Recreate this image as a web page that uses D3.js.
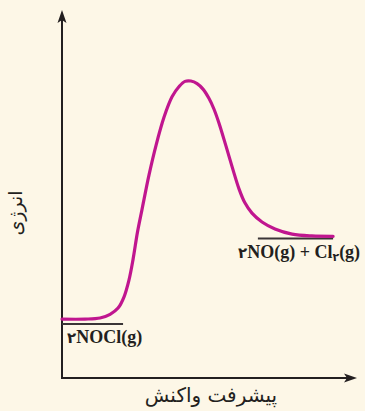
<!DOCTYPE html>
<html>
<head>
<meta charset="utf-8">
<script src="https://cdn.jsdelivr.net/npm/d3@7/dist/d3.min.js"></script>
<style>
  html, body { margin: 0; padding: 0; background: #fdf7e7; }
  svg { display: block; }
</style>
</head>
<body>
<script>
// ---- data ----
// reaction progress (0..100) and energy (0..100, arbitrary units)
const progress = [0, 7.8, 12.9, 16.3, 19.0, 21.0, 22.7, 24.1, 25.6, 27.1, 29.5, 31.9, 34.6, 37.3, 39.7, 41.7, 43.7, 45.8, 47.8, 49.8, 51.5, 53.2, 55.6, 58.0, 60.0, 62.0, 64.4, 67.8, 72.2, 78.0, 84.7, 91.9];
const energy   = [16.0, 16.0, 16.3, 17.3, 19.0, 22.0, 26.6, 32.3, 39.7, 45.7, 55.2, 63.3, 70.9, 76.4, 79.2, 80.6, 80.7, 80.0, 78.5, 76.0, 73.1, 69.3, 63.0, 56.5, 51.4, 47.6, 44.8, 42.4, 40.5, 39.1, 38.6, 38.5];
// energy level markers: [start progress, end progress, energy]
const levelNames = ["reactant", "product"];
const levelStart = [0, 66.4];
const levelEnd = [20.7, 91.9];
const levelEnergy = [14.7, 37.9];
const axisTitles = { y: "انرژی", x: "پیشرفت واکنش" };

const W = 365, H = 411;
const svg = d3.select("body").append("svg").attr("width", W).attr("height", H);
svg.append("rect").attr("width", W).attr("height", H).attr("fill", "#fdf7e7");

const x = d3.scaleLinear().domain([0, 100]).range([62, 357]);
const y = d3.scaleLinear().domain([0, 100]).range([378, 10]);

const ink = "#231f20";

// axes
svg.append("line").attr("x1", x(0)).attr("y1", y(0)).attr("x2", x(0)).attr("y2", y(100) + 8)
  .attr("stroke", ink).attr("stroke-width", 2);
svg.append("line").attr("x1", x(0) - 1).attr("y1", y(0)).attr("x2", x(100) - 8).attr("y2", y(0))
  .attr("stroke", ink).attr("stroke-width", 2);
// arrowheads
const tx = x(0), ty = y(100);
svg.append("path").attr("d", `M${tx},${ty} L${tx + 4.5},${ty + 13} L${tx},${ty + 10} L${tx - 4.5},${ty + 13} Z`).attr("fill", ink);
const rx = x(100), ry = y(0);
svg.append("path").attr("d", `M${rx},${ry} L${rx - 13},${ry - 4.5} L${rx - 10},${ry} L${rx - 13},${ry + 4.5} Z`).attr("fill", ink);

// level lines
levelNames.forEach((n, i) => {
  svg.append("line")
    .attr("x1", x(levelStart[i])).attr("x2", x(levelEnd[i]))
    .attr("y1", y(levelEnergy[i])).attr("y2", y(levelEnergy[i]))
    .attr("stroke", "#3a3536").attr("stroke-width", 2);
});

// energy curve
const pts = progress.map((p, i) => [p, energy[i]]);
const line = d3.line().x(d => x(d[0])).y(d => y(d[1])).curve(d3.curveCatmullRom.alpha(0.5));
svg.append("path").datum(pts).attr("d", line)
  .attr("fill", "none").attr("stroke", "#c0168f").attr("stroke-width", 3.2)
  .attr("stroke-linecap", "round");

// labels
const lblFont = "'Liberation Serif', 'DejaVu Serif', serif";
const t1 = svg.append("text")
  .attr("x", x(levelStart[0]) + 5).attr("y", y(levelEnergy[0]) + 19)
  .attr("font-family", lblFont).attr("font-weight", "bold").attr("font-size", 18)
  .attr("fill", ink).attr("direction", "ltr");
t1.append("tspan").attr("font-family", "'DejaVu Sans'").attr("font-size", 15).text("۲");
t1.append("tspan").text("NOCl(g)");

const t2 = svg.append("text")
  .attr("x", 238).attr("y", y(levelEnergy[1]) + 19.5)
  .attr("font-family", lblFont).attr("font-weight", "bold").attr("font-size", 18)
  .attr("fill", ink).attr("direction", "ltr");
t2.append("tspan").attr("font-family", "'DejaVu Sans'").attr("font-size", 15).text("۲");
t2.append("tspan").text("NO(g) + Cl");
t2.append("tspan").attr("font-family", "'DejaVu Sans'").attr("font-size", 11).attr("dy", 3).text("۲");
t2.append("tspan").attr("dy", -3).text("(g)");

// axis titles
svg.append("text")
  .attr("transform", `translate(22,213) rotate(-90)`)
  .attr("text-anchor", "middle")
  .attr("font-family", "'DejaVu Sans', sans-serif").attr("font-size", 19)
  .attr("fill", ink).text(axisTitles.y);

svg.append("text")
  .attr("x", 211).attr("y", 402)
  .attr("text-anchor", "middle")
  .attr("font-family", "'DejaVu Sans', sans-serif").attr("font-size", 20)
  .attr("fill", ink).text(axisTitles.x);
</script>
</body>
</html>
